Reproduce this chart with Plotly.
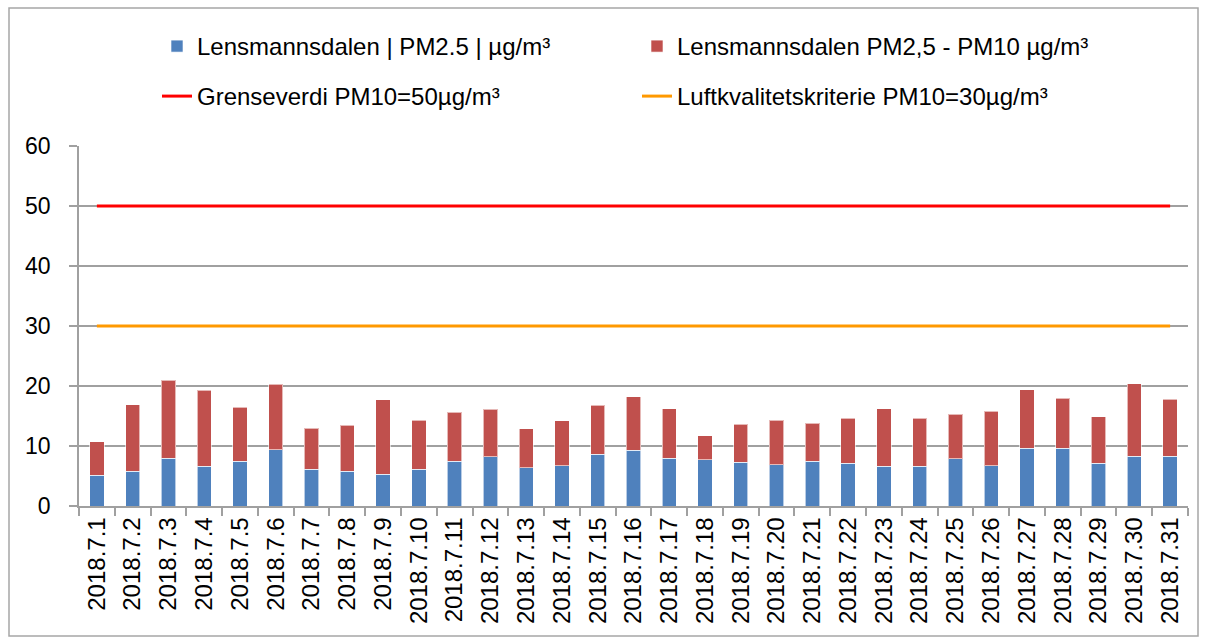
import plotly.graph_objects as go

dates = [f"2018.7.{d}" for d in range(1, 32)]
pm25 = [5.1, 5.8, 8.0, 6.6, 7.5, 9.4, 6.1, 5.8, 5.3, 6.1, 7.5,
        8.2, 6.4, 6.7, 8.6, 9.3, 8.0, 7.7, 7.3, 6.9, 7.5,
        7.1, 6.6, 6.6, 7.9, 6.7, 9.6, 9.6, 7.1, 8.3, 8.3]
pm10_total = [10.7, 16.9, 21.0, 19.3, 16.5, 20.3, 13.0, 13.5, 17.7, 14.3, 15.6,
              16.1, 12.9, 14.2, 16.8, 18.2, 16.2, 11.7, 13.6, 14.3, 13.8,
              14.6, 16.2, 14.6, 15.3, 15.8, 19.4, 18.0, 14.9, 20.4, 17.8]
coarse = [round(t - f, 2) for t, f in zip(pm10_total, pm25)]
limit_value = [50] * len(dates)
quality_value = [30] * len(dates)

W, H = 1208, 641
ml, mr, mt, mb = 79, 20, 146, 135
pw, ph = W - ml - mr, H - mt - mb

def px_x(x):
    return (x - ml) / pw

def px_y(y):
    return (H - mb - y) / ph

legend_font = dict(family="Liberation Sans, Arial", size=24, color="#000000")
tick_font_family = "Liberation Sans, Arial"

fig = go.Figure()
fig.add_trace(go.Bar(x=dates, y=pm25, name="Lensmannsdalen | PM2.5 | µg/m³",
                     marker=dict(color="#4F81BD", line=dict(color="rgba(255,255,255,0.6)", width=1)),
                     legend="legend"))
fig.add_trace(go.Bar(x=dates, y=coarse, name="Lensmannsdalen PM2,5 - PM10 µg/m³",
                     marker=dict(color="#C0504D", line=dict(color="rgba(255,255,255,0.6)", width=1)),
                     legend="legend"))
fig.add_trace(go.Scatter(x=dates, y=limit_value, mode="lines", name="Grenseverdi PM10=50µg/m³",
                         line=dict(color="#FF0000", width=3), legend="legend2"))
fig.add_trace(go.Scatter(x=dates, y=quality_value, mode="lines", name="Luftkvalitetskriterie PM10=30µg/m³",
                         line=dict(color="#FF9900", width=3), legend="legend2"))

fig.update_layout(
    width=W, height=H,
    margin=dict(l=ml, r=mr, t=mt, b=mb),
    paper_bgcolor="white", plot_bgcolor="white",
    barmode="stack", bargap=0.6,
    showlegend=True,
    legend=dict(orientation="h", x=px_x(157), xanchor="left", y=px_y(24), yanchor="top",
                entrywidth=435, entrywidthmode="pixels", font=legend_font,
                bgcolor="rgba(0,0,0,0)", traceorder="normal"),
    legend2=dict(orientation="h", x=px_x(157), xanchor="left", y=px_y(74), yanchor="top",
                 entrywidth=435, entrywidthmode="pixels", font=legend_font,
                 bgcolor="rgba(0,0,0,0)", traceorder="normal"),
    xaxis=dict(type="category", tickangle=-90, tickson="boundaries", ticks="outside",
               ticklen=8, tickcolor="#A0A0A0", tickwidth=1.5,
               showline=True, linecolor="#A0A0A0", linewidth=1.5, showgrid=False,
               tickfont=dict(family=tick_font_family, size=24, color="#000000")),
    yaxis=dict(range=[0, 60], dtick=10, ticks="outside", ticklen=8, tickcolor="#A0A0A0", tickwidth=1.5,
               showline=True, linecolor="#A0A0A0", linewidth=1.5, ticklabelstandoff=14,
               showgrid=True, gridcolor="#A0A0A0", gridwidth=1.5, zeroline=False,
               tickfont=dict(family=tick_font_family, size=23, color="#000000")),
    shapes=[dict(type="rect", xref="paper", yref="paper",
                 x0=px_x(9), x1=px_x(1198), y0=px_y(636), y1=px_y(8),
                 line=dict(color="#A6A6A6", width=1.5), fillcolor="rgba(0,0,0,0)", layer="below")],
)

fig.write_html("out.html",
               config={"displayModeBar": False},
               post_script="document.body.style.margin='0px';document.body.style.padding='0px';")
